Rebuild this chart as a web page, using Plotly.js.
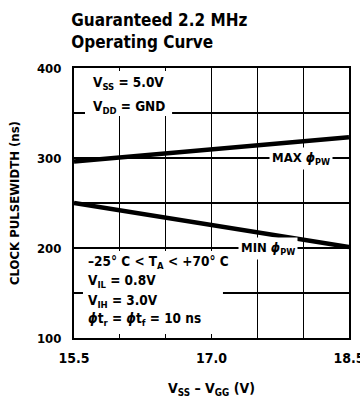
<!DOCTYPE html>
<html>
<head>
<meta charset="utf-8">
<script src="https://cdn.plot.ly/plotly-3.0.1.min.js"></script>
<style>html,body{margin:0;padding:0;background:#fff;}#chart{width:360px;height:398px;}</style>
</head>
<body>
<div id="chart"></div>
<script>
// Data
var vssMinusVgg = [15.5, 18.5];
var maxPW = [296, 323];
var minPW = [250, 201];
var xTickVals = [15.5, 17.0, 18.5];
var xTickText = ['15.5', '17.0', '18.5'];
var yTickVals = [100, 200, 300, 400];
var yTickText = ['100', '200', '300', '400'];
var upperNotes = ['V<sub>SS</sub> = 5.0V', 'V<sub>DD</sub> = GND'];
var lowerNotes = ['–25° C &lt; T<sub>A</sub> &lt; +70° C', 'V<sub>IL</sub> = 0.8V', 'V<sub>IH</sub> = 3.0V', '<i>ϕ</i>t<sub>r</sub> = <i>ϕ</i>t<sub>f</sub> = 10 ns'];

var FONT = '"DejaVu Sans Condensed", "DejaVu Sans", "Liberation Sans Narrow", Arial, sans-serif';
var BF = function (size) { return {family: FONT, size: size, color: '#000', weight: 'bold'}; };

var traces = [
  {x: vssMinusVgg, y: maxPW, mode: 'lines', line: {color: '#000', width: 4.5}, hoverinfo: 'skip', showlegend: false},
  {x: vssMinusVgg, y: minPW, mode: 'lines', line: {color: '#000', width: 4.5}, hoverinfo: 'skip', showlegend: false}
];

var annotations = [];
var upperY = [383, 357];
upperNotes.forEach(function (t, i) {
  annotations.push({x: 15.69, y: upperY[i], xref: 'x', yref: 'y', xanchor: 'left', yanchor: 'middle',
    showarrow: false, text: t, font: BF(13.5)});
});
var lowerY = [185, 163, 141, 121.5];
lowerNotes.forEach(function (t, i) {
  annotations.push({x: 15.63, y: lowerY[i], xref: 'x', yref: 'y', xanchor: 'left', yanchor: 'middle',
    showarrow: false, text: t, font: BF(13.5)});
});
annotations.push({x: 17.98, y: 300, xref: 'x', yref: 'y', xanchor: 'center', yanchor: 'middle', showarrow: false,
  text: 'MAX <i>ϕ</i><sub>PW</sub>', font: BF(13), bgcolor: '#fff', borderpad: 2});
annotations.push({x: 17.62, y: 200, xref: 'x', yref: 'y', xanchor: 'center', yanchor: 'middle', showarrow: false,
  text: 'MIN <i>ϕ</i><sub>PW</sub>', font: BF(13), bgcolor: '#fff', borderpad: 2});

var layout = {
  width: 360, height: 398,
  margin: {l: 74, r: 11, t: 68, b: 60},
  paper_bgcolor: '#fff', plot_bgcolor: '#fff',
  font: {family: FONT, color: '#000'},
  title: {
    text: 'Guaranteed 2.2 MHz<br>Operating Curve',
    font: BF(17),
    xref: 'container', x: 0.198, xanchor: 'left',
    yref: 'container', y: 0.935, yanchor: 'top'
  },
  xaxis: {
    range: [15.5, 18.5],
    tickvals: xTickVals, ticktext: xTickText,
    tickfont: BF(14),
    ticks: '', ticklabelstandoff: 6, ticklabeloverflow: 'allow',
    showgrid: false, zeroline: false,
    showline: true, linecolor: '#000', linewidth: 2, mirror: true,
    minor: {dtick: 0.5, tick0: 15.5, showgrid: true, gridcolor: '#000', gridwidth: 1.3},
    title: {text: 'V<sub>SS</sub> – V<sub>GG</sub> (V)', font: BF(14), standoff: 19},
    fixedrange: true
  },
  yaxis: {
    range: [100, 400],
    tickvals: yTickVals, ticktext: yTickText,
    tickfont: BF(13),
    ticks: '', ticklabelstandoff: 8,
    showgrid: false, zeroline: false,
    showline: true, linecolor: '#000', linewidth: 2, mirror: true,
    minor: {dtick: 50, tick0: 100, showgrid: true, gridcolor: '#000', gridwidth: 1.3},
    title: {text: 'CLOCK PULSEWIDTH (ns)', font: BF(13), standoff: 14},
    fixedrange: true
  },
  shapes: [
    {type: 'rect', xref: 'x', yref: 'y', x0: 15.62, x1: 16.57, y0: 346.7, y1: 396.7, fillcolor: '#fff', line: {width: 0}, layer: 'above'},
    {type: 'rect', xref: 'x', yref: 'y', x0: 15.598, x1: 17.125, y0: 104.4, y1: 196.7, fillcolor: '#fff', line: {width: 0}, layer: 'above'}
  ],
  annotations: annotations
};

Plotly.newPlot('chart', traces, layout, {staticPlot: true, displayModeBar: false});
</script>
</body>
</html>
